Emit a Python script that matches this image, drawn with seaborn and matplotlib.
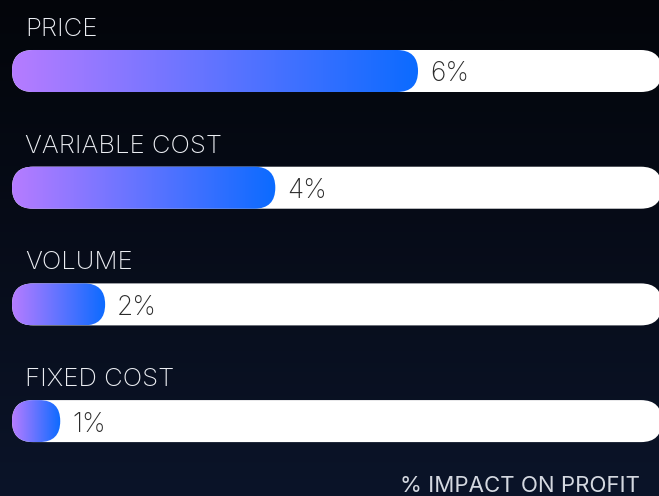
import numpy as np
import pandas as pd
import matplotlib.pyplot as plt
import seaborn as sns
from matplotlib.patches import FancyBboxPatch
from matplotlib.colors import LinearSegmentedColormap

# %%
# data
factors = ["PRICE", "VARIABLE COST", "VOLUME", "FIXED COST"]
impact = [6.06, 3.93, 1.39, 0.72]
impact_labels = ["6%", "4%", "2%", "1%"]
track_max = 9.7
axis_title = "% IMPACT ON PROFIT"

df = pd.DataFrame({"factor": factors, "impact": impact, "track": track_max})

# %%
plt.rcParams["font.family"] = ["Inter", "DejaVu Sans"]

W, H = 659, 496
px_x = 67.0  # pixels per percent
px_y = 116.7  # pixels between rows

fig = plt.figure(figsize=(W / 100, H / 100), dpi=100)

# background gradient, near black at the top to dark navy at the bottom
bg = fig.add_axes([0, 0, 1, 1])
bg_cmap = LinearSegmentedColormap.from_list("bg", ["#03050a", "#0b1429"])
bg.imshow(np.linspace(0, 1, 256).reshape(-1, 1), cmap=bg_cmap, aspect="auto", extent=(0, 1, 0, 1))
bg.axis("off")

ax = fig.add_axes([0, 0, 1, 1])
ax.patch.set_alpha(0)

sns.barplot(data=df, y="factor", x="track", color="white", width=0.36, ax=ax)
sns.barplot(data=df, y="factor", x="impact", color="#6a70ff", width=0.36, ax=ax)

bar_cmap = LinearSegmentedColormap.from_list("bar", ["#b67cff", "#0b6bff"])
aspect = px_x / px_y

bars = list(ax.patches)
n = len(factors)
for k, p in enumerate(bars):
    x0, y0, w, h = p.get_x(), p.get_y(), p.get_width(), p.get_height()
    p.remove()
    r = h / aspect / 2
    is_value = k >= n
    pill = FancyBboxPatch(
        (x0, y0), w, h,
        boxstyle=f"round,pad=0,rounding_size={r}",
        mutation_aspect=aspect,
        facecolor="none" if is_value else "white",
        edgecolor="none",
        zorder=3 if is_value else 2,
    )
    ax.add_patch(pill)
    if is_value:
        im = ax.imshow(
            np.linspace(0, 1, 256).reshape(1, -1),
            cmap=bar_cmap,
            extent=(x0, x0 + w, y0 + h, y0),
            aspect="auto",
            zorder=3,
        )
        im.set_clip_path(pill)

for i, (name, val, lab) in enumerate(zip(factors, impact, impact_labels)):
    ax.text(13 / px_x, i - 35 / px_y, name, color="#eceef3", fontsize=18.5,
            fontweight="light", ha="left", va="baseline", zorder=4)
    ax.text(val + 12 / px_x, i + 10.5 / px_y, lab, color="#2b2b2b", fontsize=19,
            fontweight="light", ha="left", va="baseline", zorder=4)

ax.set_xlim(-12 / px_x, (W - 12) / px_x)
ax.set_ylim((H - 71) / px_y, -71 / px_y)
ax.axis("off")

fig.text(640 / W, 1 - 492 / H, axis_title, color="#d4d8e0", fontsize=16,
         ha="right", va="baseline")

plt.savefig("out.png", dpi=100)
